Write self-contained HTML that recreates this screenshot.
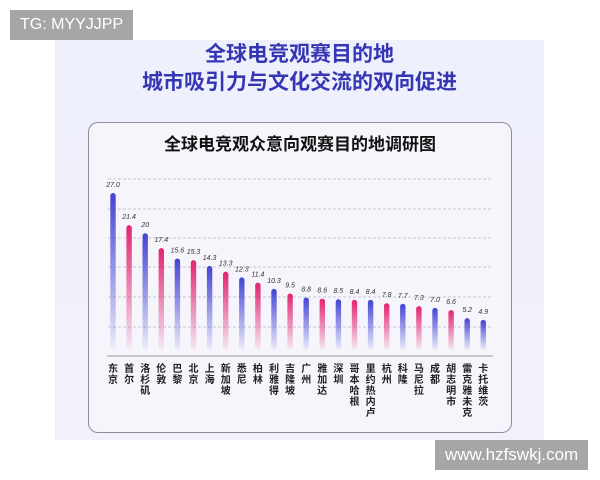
<!DOCTYPE html>
<html><head><meta charset="utf-8"><style>
body{margin:0;width:600px;height:480px;background:#fff;position:relative;overflow:hidden;font-family:"Liberation Sans","Noto Sans CJK SC",sans-serif}
.bg{position:absolute;left:55px;top:40px;width:489px;height:400px;background:linear-gradient(#eef0fb,#f1f1fa)}
.tag{position:absolute;background:#a6a6a6;color:#fff;font-size:16px;line-height:30px;padding:0 10px}
.t{position:absolute;left:55px;width:489px;text-align:center;color:#3636b4;font-weight:bold;font-size:21px;font-family:"Noto Sans CJK SC",sans-serif}
.card{position:absolute;left:88px;top:122px;width:422px;height:309px;border:1.5px solid #8d8d9c;border-radius:10px;background:#f5f5fb}
</style></head><body>
<div class="bg"></div>
<div class="tag" style="left:10px;top:10px">TG: MYYJJPP</div>
<div class="tag" style="left:435px;top:440px;font-size:17px">www.hzfswkj.com</div>
<div class="t" style="top:38px">全球电竞观赛目的地</div>
<div class="t" style="top:66px">城市吸引力与文化交流的双向促进</div>
<div class="card"></div>
<svg style="position:absolute;left:0;top:0" width="600" height="480">
<defs>
<linearGradient id="b" x1="0" y1="0" x2="0" y2="1"><stop offset="0" stop-color="#4343d6"/><stop offset="1" stop-color="#4343d6" stop-opacity="0.05"/></linearGradient>
<linearGradient id="p" x1="0" y1="0" x2="0" y2="1"><stop offset="0" stop-color="#e3236f"/><stop offset="1" stop-color="#e3236f" stop-opacity="0.05"/></linearGradient>
</defs>
<text x="300" y="150" text-anchor="middle" font-size="17" font-weight="bold" fill="#111" font-family="Noto Sans CJK SC,sans-serif">全球电竞观众意向观赛目的地调研图</text>
<g stroke="#b8b8c4" stroke-dasharray="3,2" stroke-width="0.8">
<line x1="108" x2="493" y1="179" y2="179"/><line x1="108" x2="493" y1="209" y2="209"/><line x1="108" x2="493" y1="238" y2="238"/><line x1="108" x2="493" y1="267" y2="267"/><line x1="108" x2="493" y1="297" y2="297"/><line x1="108" x2="493" y1="327" y2="327"/>
</g>
<line x1="107" x2="493" y1="356" y2="356" stroke="#999" stroke-width="1"/>
<g id="bars"></g>
<g id="labs" font-size="10" fill="#222" font-weight="bold" text-anchor="middle" font-family="Noto Sans CJK SC,sans-serif"></g>
</svg>
<script>
var d=[["东京",27.0,"27.0","b"],["首尔",21.4,"21.4","p"],["洛杉矶",20,"20","b"],["伦敦",17.4,"17.4","p"],["巴黎",15.6,"15.6","b"],["北京",15.3,"15.3","p"],["上海",14.3,"14.3","b"],["新加坡",13.3,"13.3","p"],["悉尼",12.3,"12.3","b"],["柏林",11.4,"11.4","p"],["利雅得",10.3,"10.3","b"],["吉隆坡",9.5,"9.5","p"],["广州",8.8,"8.8","b"],["雅加达",8.6,"8.6","p"],["深圳",8.5,"8.5","b"],["哥本哈根",8.4,"8.4","p"],["里约热内卢",8.4,"8.4","b"],["杭州",7.8,"7.8","p"],["科隆",7.7,"7.7","b"],["马尼拉",7.3,"7.3","p"],["成都",7.0,"7.0","b"],["胡志明市",6.6,"6.6","p"],["雷克雅未克",5.2,"5.2","b"],["卡托维茨",4.9,"4.9","b"]];
var s="",l="";
d.forEach(function(e,i){var x=113+i*16.1,top=348-e[1]*5.74;
s+='<rect x="'+(x-2.7)+'" y="'+top+'" width="5.4" height="'+(350-top)+'" rx="2.7" fill="url(#'+e[3]+')"/>';
s+='<text x="'+x+'" y="'+(top-6)+'" font-size="7" fill="#333" text-anchor="middle" font-style="italic" font-family="Liberation Sans,sans-serif">'+e[2]+'</text>';
for(var k=0;k<e[0].length;k++)l+='<text x="'+x+'" y="'+(372+k*11)+'">'+e[0][k]+'</text>';});
document.getElementById("bars").innerHTML=s;document.getElementById("labs").innerHTML=l;
</script>
</body></html>
